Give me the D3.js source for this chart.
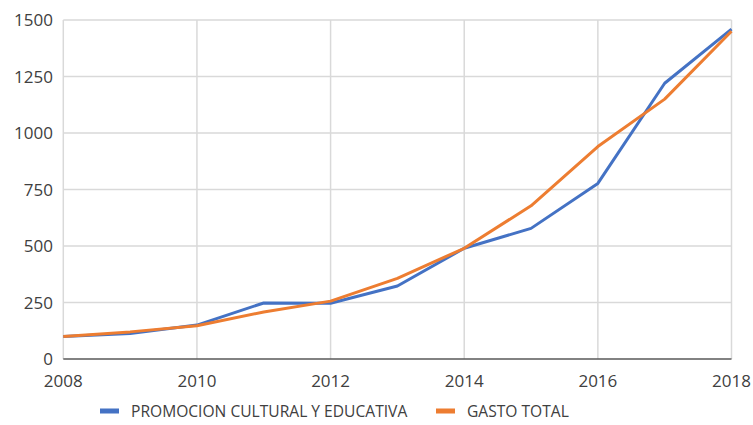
<!DOCTYPE html>
<html>
<head>
<meta charset="utf-8">
<script src="https://cdn.jsdelivr.net/npm/d3@7"></script>
<style>
  body { margin: 0; background: #fff; }
  text { font-family: "Open Sans", sans-serif; fill: #404040; }
</style>
</head>
<body>
<svg id="chart" width="753" height="425"></svg>
<script>
// data
var years = [2008, 2009, 2010, 2011, 2012, 2013, 2014, 2015, 2016, 2017, 2018];
var promocion = [100, 113, 150, 248, 247, 323, 490, 578, 777, 1220, 1460];
var gastoTotal = [100, 120, 147, 208, 256, 357, 490, 678, 940, 1150, 1450];
var xTicks = [2008, 2010, 2012, 2014, 2016, 2018];
var yTicks = [0, 250, 500, 750, 1000, 1250, 1500];
var seriesNames = ["PROMOCION CULTURAL Y EDUCATIVA", "GASTO TOTAL"];
var colors = ["#4472c4", "#ed7d31"];

var svg = d3.select("#chart");
// plot area edges
var pLeft = 63.3, pRight = 731.5, pTop = 20, pBottom = 359;

var x = d3.scaleLinear().domain([2008, 2018]).range([pLeft, pRight]);
var y = d3.scaleLinear().domain([0, 1500]).range([pBottom, pTop]);

// gridlines
svg.append("g").selectAll("line")
  .data(yTicks.slice(1))
  .enter().append("line")
  .attr("x1", pLeft).attr("x2", pRight)
  .attr("y1", function(d) { return y(d); })
  .attr("y2", function(d) { return y(d); })
  .attr("stroke", "#d9d9d9").attr("stroke-width", 1.5);

svg.append("g").selectAll("line")
  .data(xTicks)
  .enter().append("line")
  .attr("x1", function(d) { return x(d); })
  .attr("x2", function(d) { return x(d); })
  .attr("y1", pTop).attr("y2", pBottom)
  .attr("stroke", "#d9d9d9").attr("stroke-width", 1.5);

// bottom axis line
svg.append("line")
  .attr("x1", pLeft).attr("x2", pRight)
  .attr("y1", pBottom).attr("y2", pBottom)
  .attr("stroke", "#595959").attr("stroke-width", 1.5);

// axis labels
svg.append("g").selectAll("text")
  .data(yTicks)
  .enter().append("text")
  .attr("x", 53)
  .attr("y", function(d) { return y(d) + 6; })
  .attr("text-anchor", "end")
  .attr("font-size", 17)
  .text(function(d) { return d; });

svg.append("g").selectAll("text")
  .data(xTicks)
  .enter().append("text")
  .attr("x", function(d) { return x(d); })
  .attr("y", 387)
  .attr("text-anchor", "middle")
  .attr("font-size", 17)
  .text(function(d) { return d; });

// lines
var line = d3.line()
  .x(function(d, i) { return x(years[i]); })
  .y(function(d) { return y(d); });

[promocion, gastoTotal].forEach(function(s, i) {
  svg.append("path")
    .datum(s)
    .attr("d", line)
    .attr("fill", "none")
    .attr("stroke", colors[i])
    .attr("stroke-width", 3)
    .attr("stroke-linejoin", "round");
});

// legend
var legendX = [100, 436];
var leg = svg.append("g").selectAll("g")
  .data(seriesNames)
  .enter().append("g")
  .attr("transform", function(d, i) { return "translate(" + legendX[i] + ",0)"; });

leg.append("rect")
  .attr("x", 0).attr("y", 408.5)
  .attr("width", 19).attr("height", 5)
  .attr("fill", function(d, i) { return colors[i]; });

leg.append("text")
  .attr("x", 31)
  .attr("y", 417)
  .attr("font-size", 15.6)
  .text(function(d) { return d; });
</script>
</body>
</html>
